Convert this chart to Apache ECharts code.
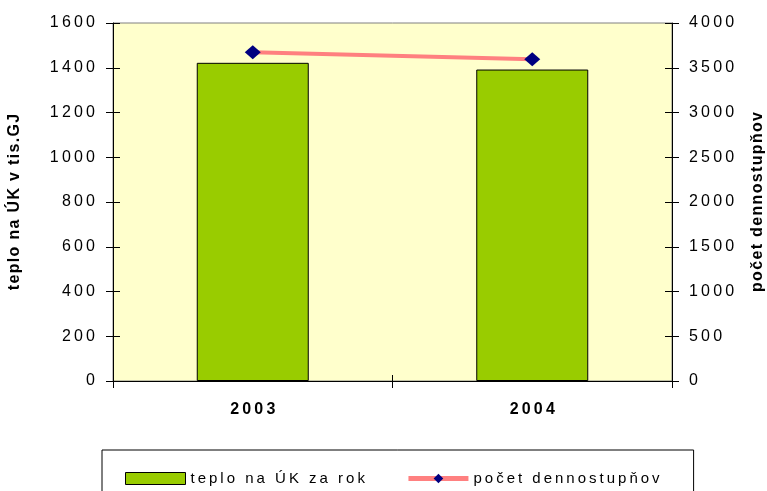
<!DOCTYPE html>
<html><head><meta charset="utf-8">
<script src="https://cdn.jsdelivr.net/npm/echarts@6/dist/echarts.min.js"></script>
<style>html,body{margin:0;padding:0;background:#fff}#c{width:767px;height:491px}</style>
</head><body><div id="c"></div>
<script>
const categories = ['2003', '2004'];
const heatValues = [1422, 1392];
const degreeDays = [3672, 3594];
const heatName = 'teplo na ÚK za rok';
const ddName = 'počet dennostupňov';
const leftAxisTitle = 'teplo na ÚK v tis.GJ';
const rightAxisTitle = 'počet dennostupňov';

const sp = s => String(s).split('').join('\u2009');
const hs = s => String(s).split('').join('\u200A');
const FONT = '"Liberation Sans", Arial, sans-serif';

const chart = echarts.init(document.getElementById('c'), null, {renderer: 'canvas'});
const grid = {left: 113, right: 95, top: 23, bottom: 110, show: true, backgroundColor: '#FFFFCC', borderColor: '#808080', borderWidth: 1, outerBoundsMode: 'none', containLabel: false};
const blackLine = {show: true, lineStyle: {color: '#000', width: 1}};
chart.setOption({
  animation: false,
  textStyle: {fontFamily: FONT},
  grid: grid,
  legend: {
    data: [
      {name: heatName, icon: 'rect', itemStyle: {color: '#99CC00', borderColor: '#000', borderWidth: 1}},
      {name: ddName, lineStyle: {color: '#FF8080', width: 5}}
    ],
    left: 102, top: 450,
    padding: [21, 34, 22, 23],
    borderColor: '#000', borderWidth: 1,
    itemWidth: 60, itemHeight: 12, itemGap: 41,
    textStyle: {fontSize: 15, color: '#000', fontFamily: FONT},
    formatter: n => sp(n)
  },
  xAxis: [{
    type: 'category', data: categories, position: 'bottom',
    axisLine: blackLine,
    axisTick: {show: true, length: 7, lineStyle: {color: '#000'}},
    axisLabel: {margin: 21, fontSize: 16, fontWeight: 'bold', color: '#000', formatter: v => sp(v)},
    splitLine: {show: false}
  }, {
    type: 'category', data: categories, position: 'bottom',
    axisLine: {show: false},
    axisTick: {show: true, inside: true, length: 6, lineStyle: {color: '#000'}},
    axisLabel: {show: false}, splitLine: {show: false}
  }],
  yAxis: [{
    type: 'value', min: 0, max: 1600, interval: 200, position: 'left',
    name: hs(leftAxisTitle), nameLocation: 'middle', nameGap: 90, nameRotate: 90,
    nameTextStyle: {fontSize: 16, fontWeight: 'bold', color: '#000'},
    axisLine: blackLine,
    axisTick: {show: true, length: 7, lineStyle: {color: '#000'}},
    axisLabel: {margin: 18, fontSize: 16, color: '#000', formatter: v => sp(v)},
    splitLine: {show: false}
  }, {
    type: 'value', min: 0, max: 4000, interval: 500, position: 'right',
    name: hs(rightAxisTitle), nameLocation: 'middle', nameGap: 78, nameRotate: 90,
    nameTextStyle: {fontSize: 16, fontWeight: 'bold', color: '#000'},
    axisLine: blackLine,
    axisTick: {show: true, length: 7, lineStyle: {color: '#000'}},
    axisLabel: {margin: 17, fontSize: 16, color: '#000', formatter: v => sp(v)},
    splitLine: {show: false}
  }, {
    type: 'value', min: 0, max: 1600, interval: 200, position: 'left',
    axisLine: {show: false},
    axisTick: {show: true, inside: true, length: 7, lineStyle: {color: '#000'}},
    axisLabel: {show: false}, splitLine: {show: false}
  }, {
    type: 'value', min: 0, max: 4000, interval: 500, position: 'right',
    axisLine: {show: false},
    axisTick: {show: true, inside: true, length: 7, lineStyle: {color: '#000'}},
    axisLabel: {show: false}, splitLine: {show: false}
  }],
  series: [{
    name: heatName, type: 'bar', data: heatValues, barWidth: 112,
    xAxisIndex: 0, yAxisIndex: 0,
    itemStyle: {color: '#99CC00', borderColor: '#000', borderWidth: 1}
  }, {
    name: ddName, type: 'line', data: degreeDays,
    xAxisIndex: 0, yAxisIndex: 1, z: 5,
    symbol: 'diamond', symbolSize: [16, 14],
    itemStyle: {color: '#000080'},
    lineStyle: {color: '#FF8080', width: 4}
  }]
});
</script></body></html>
